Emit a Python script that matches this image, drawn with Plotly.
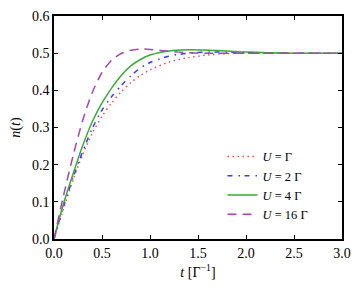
import plotly.graph_objects as go

t = [0.0, 0.1, 0.2, 0.3, 0.4, 0.5, 0.6, 0.7, 0.8, 0.9, 1.0, 1.2, 1.4, 1.6, 1.8, 2.0, 2.5, 3.0]
n_u1 = [0.0, 0.082, 0.160, 0.228, 0.285, 0.330, 0.366, 0.396, 0.421, 0.440, 0.455, 0.476, 0.488, 0.495, 0.499, 0.500, 0.500, 0.500]
n_u2 = [0.0, 0.088, 0.166, 0.236, 0.298, 0.347, 0.383, 0.413, 0.439, 0.460, 0.475, 0.492, 0.500, 0.503, 0.503, 0.502, 0.500, 0.500]
n_u4 = [0.0, 0.096, 0.176, 0.252, 0.316, 0.366, 0.406, 0.440, 0.466, 0.483, 0.495, 0.506, 0.509, 0.508, 0.506, 0.503, 0.500, 0.500]
n_u16 = [0.0, 0.118, 0.225, 0.320, 0.395, 0.448, 0.481, 0.499, 0.508, 0.511, 0.510, 0.505, 0.501, 0.500, 0.500, 0.500, 0.500, 0.500]

labels = ["<i>U</i> = Γ", "<i>U</i> = 2 Γ", "<i>U</i> = 4 Γ", "<i>U</i> = 16 Γ"]
series = [n_u1, n_u2, n_u4, n_u16]
colors = ["#ff4a4a", "#3a3aff", "#3aaa3a", "#a845b0"]
dashes = ["1.5px,3.5px", "5px,6px,1.5px,4.5px", "solid", "9px,6px"]

fig = go.Figure()
for y, lab, c, d in zip(series, labels, colors, dashes):
    fig.add_trace(go.Scatter(x=t, y=y, mode="lines", name=lab,
                             line=dict(color=c, width=1.5, dash=d, shape="spline", smoothing=0.8)))

FAM = "Liberation Serif"
font = dict(family=FAM, size=14, color="black")
legfont = dict(family=FAM, size=12.5, color="black")
axis_common = dict(showline=True, linecolor="black", linewidth=1.5, mirror="ticks",
                   ticks="inside", ticklen=4, tickwidth=1, tickcolor="black",
                   showgrid=False, zeroline=False, tickformat=".1f", tickfont=font,
                   automargin=False)

fig.update_layout(
    width=353, height=282,
    margin=dict(l=46, r=19, t=8, b=51),
    paper_bgcolor="white", plot_bgcolor="white",
    font=font,
    showlegend=True,
    legend=dict(x=0.585, y=0.435, xanchor="left", yanchor="top", bgcolor="rgba(0,0,0,0)",
                font=legfont, tracegroupgap=0, itemwidth=30),
    xaxis=dict(range=[0, 3], dtick=0.5,
               title=dict(text="<i>t</i> [Γ<sup>−1</sup>]", font=font, standoff=8), **axis_common),
    yaxis=dict(range=[0, 0.6], dtick=0.1,
               title=dict(text="<i>n</i>(<i>t</i>)", font=font, standoff=9), **axis_common),
)

fig.write_html("out.html")
